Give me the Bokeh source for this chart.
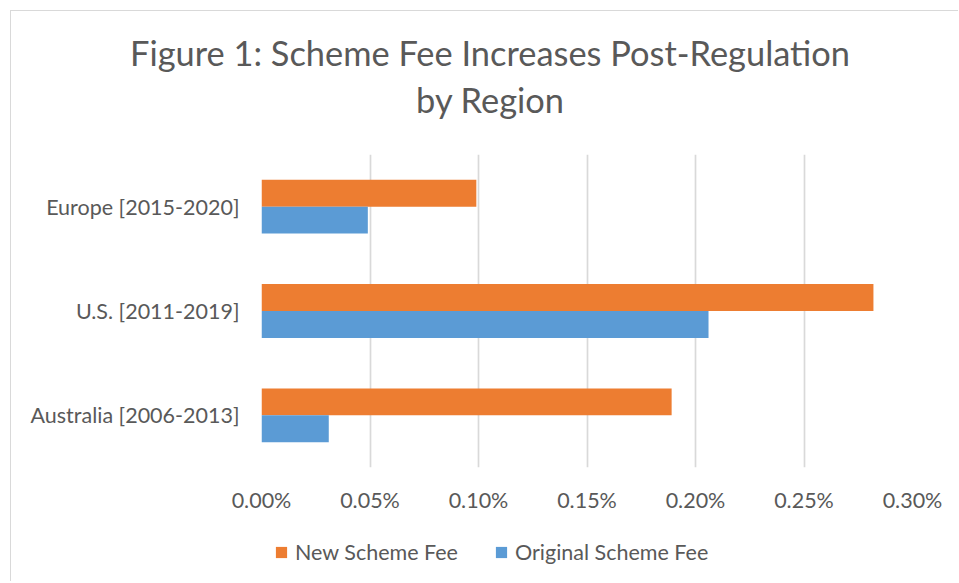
from bokeh.plotting import figure
from bokeh.models import (FactorRange, Range1d, FixedTicker, PrintfTickFormatter,
                          Legend, LegendItem, Label, ColumnDataSource)
from bokeh.layouts import column
from bokeh.transform import dodge
from bokeh.embed import file_html
from bokeh.resources import INLINE

regions = ["Australia [2006-2013]", "U.S. [2011-2019]", "Europe [2015-2020]"]
new_fee = [0.189, 0.282, 0.099]        # percent
original_fee = [0.031, 0.206, 0.049]   # percent
x_ticks = [0.0, 0.05, 0.10, 0.15, 0.20, 0.25, 0.30]
title_lines = ["Figure 1: Scheme Fee Increases Post-Regulation", "by Region"]
series_names = ["New Scheme Fee", "Original Scheme Fee"]

ORANGE = "#ED7D31"
BLUE = "#5B9BD5"
GREY = "#595959"
FONT = "Lato"
W = 947

src = ColumnDataSource(dict(region=regions, new=new_fee, orig=original_fee))


def bare(fig):
    fig.outline_line_color = None
    fig.background_fill_color = "white"
    fig.border_fill_color = "white"
    fig.frame_align = False
    return fig


# --- title strip ---
p_title = bare(figure(width=W, height=143, x_axis_type=None, y_axis_type=None,
                      output_backend="svg", toolbar_location=None,
                      min_border=0, x_range=Range1d(0, 1), y_range=Range1d(0, 1)))
p_title.grid.visible = False
p_title.add_layout(Label(x=478.5, y=102, x_units="screen", y_units="screen", text=title_lines[0],
                         text_align="center", text_baseline="alphabetic", text_font=FONT,
                         text_font_size="34.4px", text_color=GREY))
p_title.add_layout(Label(x=479, y=55, x_units="screen", y_units="screen", text=title_lines[1],
                         text_align="center", text_baseline="alphabetic", text_font=FONT,
                         text_font_size="34.4px", text_color=GREY))

# --- chart ---
p = bare(figure(width=W, height=377, y_range=FactorRange(*regions), x_range=Range1d(0, 0.30),
                output_backend="svg", toolbar_location=None,
                min_border_left=250, min_border_right=46, min_border_top=0,
                min_border_bottom=64))

r_new = p.hbar(y=dodge("region", 0.129, range=p.y_range), right="new", left=0, height=0.258,
               source=src, fill_color=ORANGE, line_color=None)
r_orig = p.hbar(y=dodge("region", -0.129, range=p.y_range), right="orig", left=0, height=0.258,
                source=src, fill_color=BLUE, line_color=None)

p.xaxis.ticker = FixedTicker(ticks=x_ticks)
p.xaxis.formatter = PrintfTickFormatter(format="%.2f%%")
for ax in (p.xaxis, p.yaxis):
    ax.axis_line_color = None
    ax.major_tick_line_color = None
    ax.minor_tick_line_color = None
    ax.major_label_text_font = FONT
    ax.major_label_text_font_size = "21.5px"
    ax.major_label_text_color = GREY
p.xaxis.major_label_standoff = 13
p.yaxis.major_label_standoff = 16

p.xgrid.grid_line_color = "#d9d9d9"
p.xgrid.grid_line_width = 1.7
p.ygrid.grid_line_color = None

# --- legend strip ---
p_leg = bare(figure(width=W, height=50, x_axis_type=None, y_axis_type=None,
                    output_backend="svg", toolbar_location=None, min_border=0,
                    y_range=FactorRange(*regions), x_range=Range1d(0, 0.30)))
p_leg.grid.visible = False
l_new = p_leg.hbar(y="region", right="new", left=0, height=0.258, source=src,
                   fill_color=ORANGE, line_color=None, visible=False)
l_orig = p_leg.hbar(y="region", right="orig", left=0, height=0.258, source=src,
                    fill_color=BLUE, line_color=None, visible=False)
legend = Legend(items=[LegendItem(label=series_names[0], renderers=[l_new]),
                       LegendItem(label=series_names[1], renderers=[l_orig])],
                location=(263, 14), orientation="horizontal",
                border_line_color=None, background_fill_alpha=0,
                padding=0, margin=0, spacing=36, label_standoff=7,
                glyph_width=14, glyph_height=14, label_height=30,
                label_text_font=FONT, label_text_font_size="21.5px",
                label_text_color=GREY)
p_leg.add_layout(legend, "center")

layout = column(p_title, p, p_leg, spacing=0,
                styles={"margin-left": "10px", "margin-top": "10px",
                        "border-left": "1px solid #d9d9d9", "border-top": "1px solid #d9d9d9"})

open("out.html", "w").write(file_html(layout, INLINE))
